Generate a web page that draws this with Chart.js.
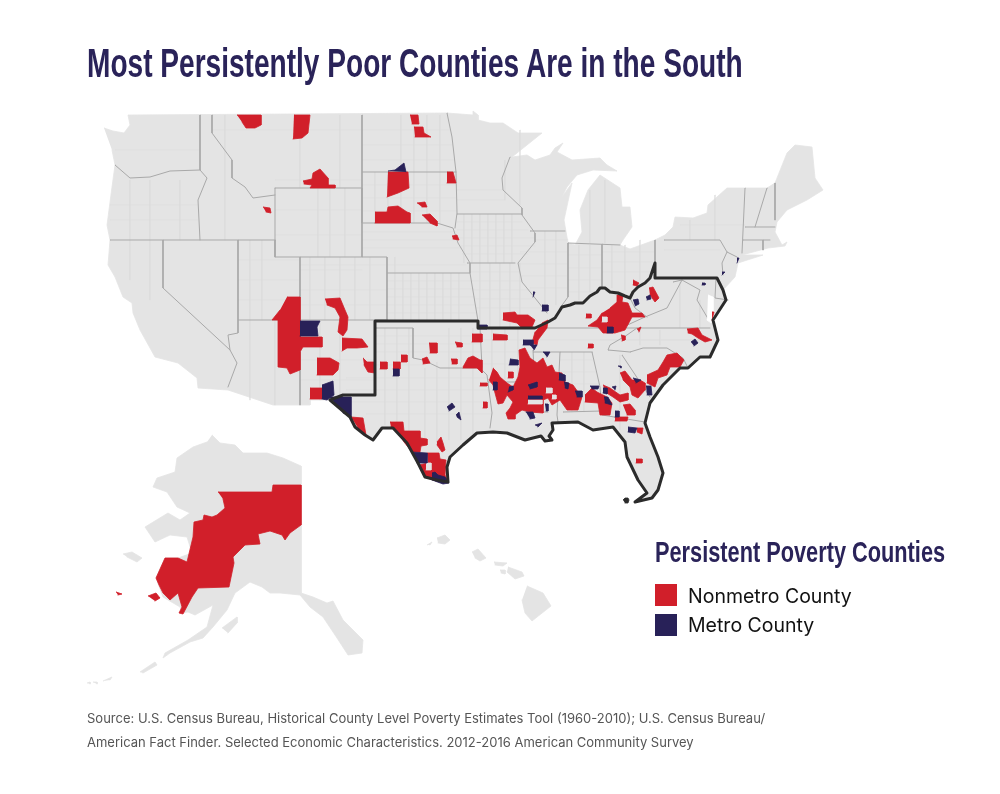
<!DOCTYPE html>
<html>
<head>
<meta charset="utf-8">
<title>Most Persistently Poor Counties Are in the South</title>
<script src="https://cdn.jsdelivr.net/npm/chart.js@4/dist/chart.umd.min.js"></script>
<style>
  html, body { margin: 0; padding: 0; background: #fff; }
  #page { position: relative; width: 1000px; height: 794px; overflow: hidden; }
  #map { position: absolute; left: 0; top: 0; }
  .txt { position: absolute; white-space: nowrap; }
  .fit { transform-origin: left top; }
  #title { left: 87px; top: 40px; font: bold 41px "Liberation Sans", sans-serif; color: #2a2359; }
  #legendTitle { left: 655px; top: 535px; font: bold 30px "Liberation Sans", sans-serif; color: #2a2359; }
  .swatch { position: absolute; left: 655px; width: 22px; height: 22px; }
  .label { left: 688px; font: 19.5px Inter, sans-serif; color: #111; }
  .source { left: 87px; font: 13px Inter, sans-serif; color: #555; }
</style>
</head>
<body>
<div id="page">
  <canvas id="map" width="1000" height="794"></canvas>
  <div class="txt fit" id="title" data-width="656">Most Persistently Poor Counties Are in the South</div>
  <div class="txt fit" id="legendTitle" data-width="290">Persistent Poverty Counties</div>
  <div class="swatch" style="top:584px;background:#d11f2a"></div>
  <div class="txt label" style="top:584px">Nonmetro County</div>
  <div class="swatch" style="top:614px;background:#282158"></div>
  <div class="txt label" style="top:613px">Metro County</div>
  <div class="txt source" style="top:710px">Source: U.S. Census Bureau, Historical County Level Poverty Estimates Tool (1960-2010); U.S. Census Bureau/</div>
  <div class="txt source" style="top:734px">American Fact Finder. Selected Economic Characteristics. 2012-2016 American Community Survey</div>
</div>

<script>
const lower48 = [[104,128],[113,131],[124,133],[130,125],[128,115],[447,113],[473,115],[473,111],[478,115],[478,120],[490,123],[503,123],[518,133],[542,133],[512,157],[527,155],[535,160],[550,155],[555,148],[563,143],[557,152],[572,160],[600,158],[607,165],[617,171],[593,170],[577,175],[567,187],[562,197],[572,183],[564,220],[568,243],[575,245],[582,232],[580,210],[588,190],[600,175],[620,188],[622,207],[630,207],[632,227],[623,240],[620,245],[630,249],[655,240],[665,235],[673,227],[675,217],[693,218],[707,213],[708,205],[727,188],[767,188],[775,183],[787,153],[795,145],[812,147],[815,178],[823,190],[807,200],[787,210],[777,222],[775,232],[782,245],[787,242],[785,246],[768,248],[742,255],[763,255],[738,263],[735,277],[723,290],[726,300],[713,320],[718,340],[710,357],[700,357],[688,368],[680,368],[663,385],[650,403],[645,423],[650,437],[658,457],[663,473],[658,490],[652,498],[635,502],[647,493],[638,480],[627,457],[625,442],[613,427],[593,430],[578,422],[552,423],[553,430],[549,436],[552,440],[545,441],[541,436],[525,440],[507,433],[493,432],[477,433],[463,445],[450,457],[447,467],[448,482],[437,480],[425,477],[418,463],[407,443],[393,428],[382,428],[373,440],[365,435],[355,427],[350,417],[330,400],[310,400],[310,405],[273,405],[228,390],[198,388],[197,378],[178,363],[155,357],[140,330],[133,313],[132,303],[123,297],[115,277],[108,265],[110,240],[107,225],[112,187],[115,165],[112,150]];
const chesapeakeBay = [[708,295],[713,297],[713,318],[711,323],[707,320]];
const alaska = [[212,435],[220,443],[235,445],[243,453],[267,453],[283,458],[301,466],[301,593],[313,597],[327,603],[333,601],[343,620],[363,640],[362,653],[348,655],[337,638],[323,617],[310,607],[300,595],[280,593],[270,593],[262,587],[250,582],[235,593],[227,610],[213,627],[203,638],[190,642],[170,653],[163,658],[165,653],[188,640],[207,627],[213,605],[195,615],[188,612],[182,613],[180,607],[163,597],[156,578],[165,558],[178,558],[192,553],[187,537],[170,535],[155,542],[145,527],[168,513],[180,520],[190,513],[177,507],[167,492],[153,487],[157,478],[175,472],[177,458],[193,447],[207,442]];
const otherLand = [
  [[123,554],[132,552],[142,558],[137,562],[127,557]],
  [[222,628],[237,617],[237,623],[228,633]],
  [[140,672],[155,662],[157,665],[143,673]],
  [[103,681],[112,677],[110,680]],
  [[87,683],[90,682],[90,684]],
  [[93,682],[97,682],[97,684]],
  [[437,538],[445,535],[450,540],[445,544],[438,543]],
  [[472,552],[478,549],[486,558],[480,561],[475,558]],
  [[494,562],[507,563],[503,566],[495,565]],
  [[500,570],[505,570],[505,574],[501,573]],
  [[508,567],[522,572],[524,576],[515,579],[507,572]],
  [[527,586],[543,593],[551,606],[532,621],[525,613],[522,600]],
  [[427,545],[432,542],[430,545]]
];

const stateLines = [
  [[115,165],[130,178],[150,177],[170,171],[200,170]],
  [[200,115],[200,170],[207,178],[198,200],[200,240]],
  [[110,240],[275,240]],
  [[212,115],[212,133],[232,160],[232,178],[245,187],[253,198],[275,195]],
  [[275,188],[362,188],[362,257],[275,257],[275,188]],
  [[362,115],[362,223]],
  [[362,172],[456,172]],
  [[362,223],[437,223],[453,228],[458,243],[470,263],[470,273]],
  [[447,113],[452,137],[456,172],[457,213],[455,228]],
  [[457,214],[522,214]],
  [[362,257],[387,257],[387,320]],
  [[387,273],[470,273],[478,321]],
  [[300,257],[300,405]],
  [[275,240],[275,257]],
  [[238,320],[387,320]],
  [[238,240],[238,333],[228,335],[230,350],[237,363],[228,387]],
  [[163,240],[163,288],[230,350]],
  [[376,328],[413,328],[413,358],[423,360],[440,368],[463,368],[480,368],[487,375],[492,413],[490,428]],
  [[480,328],[482,367]],
  [[488,382],[525,382]],
  [[535,328],[710,328]],
  [[533,352],[592,352]],
  [[608,350],[610,345],[627,335],[637,328]],
  [[630,352],[643,348],[667,348],[683,358],[688,368]],
  [[622,355],[650,397]],
  [[608,350],[630,352]],
  [[592,352],[600,387],[602,411],[602,415],[645,422]],
  [[563,412],[602,411]],
  [[560,352],[557,415],[558,422]],
  [[533,350],[535,390],[525,412],[548,412]],
  [[510,157],[502,178],[503,190],[522,208],[522,215],[535,233],[535,242],[518,263],[522,282],[535,298],[547,313]],
  [[467,263],[515,263]],
  [[530,231],[565,231]],
  [[568,243],[568,297],[560,308]],
  [[602,244],[602,287]],
  [[568,243],[620,245]],
  [[655,240],[655,263]],
  [[664,240],[720,240],[727,252],[737,257]],
  [[727,252],[722,263],[723,275]],
  [[745,188],[742,253]],
  [[745,227],[775,227]],
  [[743,240],[770,240]],
  [[763,240],[763,250]],
  [[767,188],[755,227]],
  [[775,183],[775,220]],
  [[673,282],[682,280],[667,308],[645,317],[623,327]],
  [[630,298],[635,308],[647,317]],
  [[682,280],[700,290],[697,300],[710,322]],
  [[716,278],[715,298],[728,300]]
];

// faint county grid: [y, fromX, toX] and [x, fromY, toY]
const countyRows = [[281,387,472],[289,387,474],[297,387,475],[305,387,476],[313,387,477],[232,362,456],[240,362,458],[248,362,462],[265,300,466],[130,362,450],[145,362,452],[160,362,454],[185,362,456],[198,362,456],[211,362,457],[222,457,522],[230,457,528],[238,457,535],[246,460,535],[254,462,528],[272,470,520],[281,472,522],[290,472,530],[299,474,534],[308,476,544],[240,535,568],[252,520,568],[264,518,568],[276,522,568],[288,530,568],[255,568,602],[268,568,602],[280,568,602],[292,568,598],[252,602,655],[262,602,655],[272,602,652],[336,376,480],[344,376,480],[352,376,480],[365,376,423],[378,346,487],[390,346,490],[402,351,490],[414,366,492],[340,480,535],[352,482,533],[364,482,533],[360,560,592],[372,560,596],[384,560,600],[396,558,601],[200,457,505],[190,457,503],[340,535,700],[250,664,720],[225,680,745],[340,600,700],[270,300,362],[290,300,387],[305,300,387],[260,238,300],[280,238,300],[300,238,300],[360,300,375],[380,300,375],[150,115,200],[205,110,198],[220,110,198],[180,275,362],[210,275,362],[235,275,362],[130,212,362]];
const countyCols = [[395,257,320],[403,273,320],[411,273,320],[419,273,320],[427,273,320],[435,273,320],[443,273,320],[451,273,320],[459,273,320],[375,172,223],[388,172,223],[401,115,223],[414,115,223],[427,115,223],[440,115,223],[464,214,263],[472,214,263],[480,214,263],[488,214,263],[496,214,263],[504,214,263],[512,214,263],[480,263,328],[490,263,328],[500,263,328],[510,263,328],[520,263,328],[545,231,310],[556,231,305],[579,245,300],[590,245,292],[612,245,288],[625,245,290],[640,240,280],[385,328,425],[397,328,430],[409,328,435],[425,368,445],[437,362,445],[449,328,440],[461,328,440],[473,328,434],[492,328,382],[505,328,382],[518,328,382],[572,352,412],[584,352,412],[330,188,257],[318,188,257],[345,188,257],[310,257,320],[325,257,320],[340,257,320],[355,257,320],[370,257,320],[250,240,320],[262,240,320],[130,180,280],[150,180,300],[180,180,240],[225,115,240],[300,115,188],[340,115,188],[250,320,400],[275,320,405],[320,320,400],[340,320,395],[620,355,430],[640,330,345],[660,330,345],[680,282,328],[700,300,328],[520,130,205],[505,160,200],[590,190,243],[605,180,243],[690,220,240],[715,195,240]];

const nonmetroCounties = [
  [[237,115],[261,115],[261,125],[255,128],[246,128],[242,122]],
  [[294,115],[310,115],[308,133],[302,138],[293,139]],
  [[410,115],[418,115],[419,124],[412,124]],
  [[414,127],[423,127],[424,133],[431,137],[415,137]],
  [[303,181],[312,179],[313,173],[320,169],[328,178],[328,185],[335,185],[335,188],[310,188],[312,185],[304,184]],
  [[263,207],[270,208],[271,213],[266,212]],
  [[388,172],[408,172],[409,188],[398,193],[387,197]],
  [[447,172],[453,172],[456,183],[447,183]],
  [[417,203],[425,202],[427,207],[422,207]],
  [[375,212],[387,212],[388,207],[398,206],[407,212],[410,213],[410,223],[375,223]],
  [[422,215],[430,214],[437,221],[437,226],[430,223]],
  [[452,236],[457,235],[459,240],[453,239]],
  [[287,297],[300,297],[300,337],[322,337],[322,347],[303,347],[300,352],[300,370],[290,374],[287,368],[278,367],[278,320],[272,320],[280,310]],
  [[325,299],[340,298],[345,310],[348,317],[347,330],[343,336],[338,332],[340,317],[335,308],[327,305]],
  [[342,338],[362,339],[368,347],[357,348],[347,348],[342,351]],
  [[317,358],[330,358],[339,363],[338,370],[333,375],[317,375]],
  [[310,388],[322,388],[322,399],[310,399]],
  [[363,358],[367,362],[375,362],[375,373],[368,372],[364,365]],
  [[380,362],[387,362],[387,369],[380,369]],
  [[393,362],[400,362],[400,369],[393,369]],
  [[401,355],[407,355],[407,362],[401,362]],
  [[429,343],[437,343],[437,353],[430,353]],
  [[422,359],[427,357],[430,363],[423,364]],
  [[451,359],[457,359],[457,364],[452,364]],
  [[455,342],[462,343],[462,347],[457,347]],
  [[472,334],[482,334],[482,342],[472,342]],
  [[463,367],[468,358],[473,356],[480,360],[482,360],[482,373],[477,368],[463,368]],
  [[493,334],[507,335],[507,340],[493,340]],
  [[503,313],[515,312],[517,315],[528,315],[535,320],[532,327],[522,328],[517,323],[503,320]],
  [[542,323],[548,320],[547,328],[538,340],[537,345],[532,343],[535,332]],
  [[493,368],[497,372],[500,377],[507,383],[513,387],[518,377],[520,367],[519,350],[525,348],[530,358],[537,363],[543,358],[547,367],[552,365],[555,372],[562,373],[565,382],[573,385],[578,392],[582,397],[578,410],[567,410],[560,400],[552,405],[548,398],[543,400],[543,413],[530,412],[522,410],[515,415],[515,419],[508,419],[506,413],[510,408],[513,402],[507,395],[503,403],[498,404],[495,393],[493,385],[489,380]],
  [[508,372],[513,372],[513,378],[508,378]],
  [[480,383],[487,383],[487,386],[480,386]],
  [[483,402],[487,402],[487,408],[483,408]],
  [[585,395],[592,388],[597,392],[607,397],[612,403],[610,415],[600,415],[598,403],[585,402]],
  [[603,385],[610,388],[620,395],[628,393],[628,400],[620,402],[613,397],[605,392]],
  [[623,405],[630,404],[635,410],[635,415],[627,415]],
  [[615,417],[628,417],[627,421],[615,421]],
  [[620,373],[625,371],[632,380],[640,380],[645,383],[645,390],[638,398],[632,395],[630,387],[623,380]],
  [[647,375],[658,370],[663,362],[667,355],[677,353],[684,360],[680,367],[670,367],[667,375],[658,378],[655,387],[647,383]],
  [[637,428],[643,428],[642,434],[637,432]],
  [[636,459],[642,459],[642,463],[636,463]],
  [[610,308],[617,302],[617,295],[623,295],[622,302],[628,303],[632,313],[642,313],[645,317],[632,317],[625,330],[615,333],[603,333],[598,327],[588,326],[597,320],[602,313]],
  [[586,314],[591,314],[591,318],[586,318]],
  [[633,280],[639,283],[637,286],[633,285]],
  [[649,288],[653,287],[659,298],[655,302],[650,295]],
  [[637,329],[641,327],[639,332]],
  [[621,335],[625,336],[625,340],[622,341]],
  [[588,344],[593,344],[593,348],[588,348]],
  [[687,329],[698,328],[702,335],[712,340],[705,342],[698,338],[692,334],[688,333]],
  [[712,312],[714,312],[712,320]],
  [[351,417],[363,418],[366,435],[358,428]],
  [[390,422],[403,422],[404,431],[420,431],[420,438],[427,439],[427,445],[421,446],[420,452],[412,452],[404,442],[398,432],[391,427]],
  [[427,453],[439,453],[440,459],[446,460],[445,475],[448,482],[443,483],[433,480],[425,477],[419,465],[428,463]],
  [[437,442],[441,437],[443,443],[445,450],[442,452],[437,445]],
  [[218,492],[272,492],[273,485],[301,485],[301,525],[290,533],[285,540],[282,535],[270,531],[258,534],[260,544],[245,545],[233,557],[234,563],[229,587],[198,588],[192,597],[183,614],[179,613],[182,607],[178,593],[170,600],[163,593],[159,585],[156,578],[165,558],[178,558],[187,562],[193,537],[194,522],[203,520],[204,515],[212,517],[217,515],[225,508],[223,499]],
  [[148,596],[156,593],[160,598],[155,601]],
  [[116,592],[122,594],[118,595]]
];

const metroCounties = [
  [[388,171],[395,170],[404,163],[406,172]],
  [[300,321],[320,321],[317,327],[318,336],[300,336]],
  [[322,385],[333,381],[334,395],[327,400],[322,399]],
  [[330,397],[351,397],[351,417],[343,413]],
  [[393,369],[399,369],[399,376],[393,376]],
  [[542,305],[548,305],[548,311],[542,311]],
  [[478,325],[487,325],[487,329],[478,329]],
  [[523,340],[533,340],[533,345],[523,345]],
  [[530,345],[537,345],[534,350]],
  [[543,352],[550,352],[547,357]],
  [[510,359],[518,360],[518,365],[509,365]],
  [[528,396],[542,396],[542,399],[528,399]],
  [[528,385],[537,382],[537,387],[530,389]],
  [[509,387],[513,386],[513,390],[508,392]],
  [[493,382],[497,382],[497,390],[493,390]],
  [[559,373],[565,375],[565,381],[559,380]],
  [[564,382],[569,383],[568,389],[565,388]],
  [[575,391],[582,391],[582,397],[577,397]],
  [[545,404],[548,404],[548,411],[546,411]],
  [[526,412],[533,412],[535,418],[530,419]],
  [[535,425],[542,423],[538,427]],
  [[590,386],[599,386],[598,389],[592,389]],
  [[603,388],[607,388],[607,394],[603,393]],
  [[604,397],[608,397],[612,405],[605,403]],
  [[612,387],[616,386],[615,390]],
  [[618,366],[621,366],[621,368]],
  [[615,411],[619,411],[619,417],[615,417]],
  [[633,378],[641,380],[636,383]],
  [[646,386],[651,386],[652,395],[647,395]],
  [[628,427],[637,428],[635,433],[628,432]],
  [[607,327],[613,327],[613,333],[607,333]],
  [[633,300],[638,299],[639,304],[635,306]],
  [[646,297],[650,295],[651,299],[647,300]],
  [[691,342],[695,339],[698,343],[694,346]],
  [[702,283],[705,283],[705,285],[702,285]],
  [[722,272],[725,272],[722,275]],
  [[737,258],[739,258],[737,263]],
  [[533,292],[535,292],[533,297]],
  [[412,452],[427,453],[427,463],[417,463]],
  [[432,473],[435,472],[438,475],[445,477],[449,483],[443,484],[432,480]],
  [[447,407],[452,403],[455,407],[449,411]],
  [[456,415],[459,412],[461,420],[457,417]]
];

// small unshaded gaps inside the red clusters
const unshadedGaps = [
  [[528,400],[542,400],[542,404],[528,404]],
  [[546,388],[552,388],[552,393],[546,393]],
  [[552,395],[556,395],[556,399],[552,399]],
  [[602,317],[607,317],[607,322],[602,322]],
  [[426,463],[431,463],[431,470],[426,470]]
];

// heavy outline of the South
const southBoundary = [[330,400],[343,395],[375,395],[375,321],[478,321],[478,328],[535,328],[548,322],[555,318],[562,307],[570,305],[575,303],[583,303],[590,296],[597,292],[600,288],[605,288],[610,292],[618,293],[625,296],[630,298],[633,292],[638,287],[645,283],[650,278],[655,263],[655,278],[717,278],[723,290],[726,300],[713,320],[718,340],[710,357],[700,357],[688,368],[680,368],[663,385],[650,403],[645,423],[650,437],[658,457],[663,473],[658,490],[652,498],[635,502],[647,493],[638,480],[627,457],[625,442],[613,427],[593,430],[578,422],[552,423],[553,430],[549,436],[552,440],[545,441],[541,436],[525,440],[507,433],[493,432],[477,433],[463,445],[450,457],[447,467],[448,482],[437,480],[425,477],[418,463],[407,443],[393,428],[382,428],[373,440],[365,435],[355,427],[350,417],[330,400]];
const floridaKey = [[623,500],[625,498],[628,498],[629,500],[628,503],[625,503]];

const LAND = "#e4e4e4", COUNTY_LINE = "#dcdcdc", STATE_LINE = "#a9a9a9";
const NONMETRO = "#d11f2a", METRO = "#282158", OUTLINE = "#2b2b2b";

const toPoints = (shape) => shape.map(([x, y]) => ({ x, y }));

function areaSet(shape, color, order) {
  return { data: toPoints(shape), showLine: true, fill: "shape", backgroundColor: color, borderColor: color, borderWidth: 0.8, pointRadius: 0, order, clip: false };
}

function lineSet(points, color, width, order) {
  return { data: points, showLine: true, fill: false, borderColor: color, borderWidth: width, pointRadius: 0, order, clip: false, spanGaps: false };
}

// county grid as one dataset, gaps between segments
const countyPoints = [];
countyRows.forEach(([y, x1, x2]) => countyPoints.push({ x: x1, y }, { x: x2, y }, { x: null, y: null }));
countyCols.forEach(([x, y1, y2]) => countyPoints.push({ x, y: y1 }, { x, y: y2 }, { x: null, y: null }));

const datasets = [
  areaSet(lower48, LAND, 90),
  areaSet(alaska, LAND, 90),
  ...otherLand.map((s) => areaSet(s, LAND, 90)),
  lineSet(countyPoints, COUNTY_LINE, 0.6, 80),
  ...stateLines.map((s) => lineSet(toPoints(s), STATE_LINE, 1, 70)),
  areaSet(chesapeakeBay, "#ffffff", 65),
  ...nonmetroCounties.map((s) => areaSet(s, NONMETRO, 60)),
  ...unshadedGaps.map((s) => areaSet(s, LAND, 55)),
  ...metroCounties.map((s) => areaSet(s, METRO, 50)),
  lineSet(toPoints(southBoundary), OUTLINE, 3, 40),
  areaSet(floridaKey, OUTLINE, 40)
];

new Chart(document.getElementById("map"), {
  type: "scatter",
  data: { datasets },
  options: {
    responsive: false,
    animation: false,
    events: [],
    layout: { padding: 0 },
    plugins: { legend: { display: false }, tooltip: { enabled: false }, title: { display: false } },
    elements: { line: { tension: 0, borderJoinStyle: "round", borderCapStyle: "round" } },
    scales: {
      x: { type: "linear", min: 0, max: 1000, display: false },
      y: { type: "linear", min: 0, max: 794, reverse: true, display: false }
    }
  }
});

// no condensed face is installed, so squeeze the headings to the picture's width
document.querySelectorAll(".fit").forEach((el) => {
  el.style.transform = `scaleX(${el.dataset.width / el.offsetWidth})`;
});
</script>
</body>
</html>
